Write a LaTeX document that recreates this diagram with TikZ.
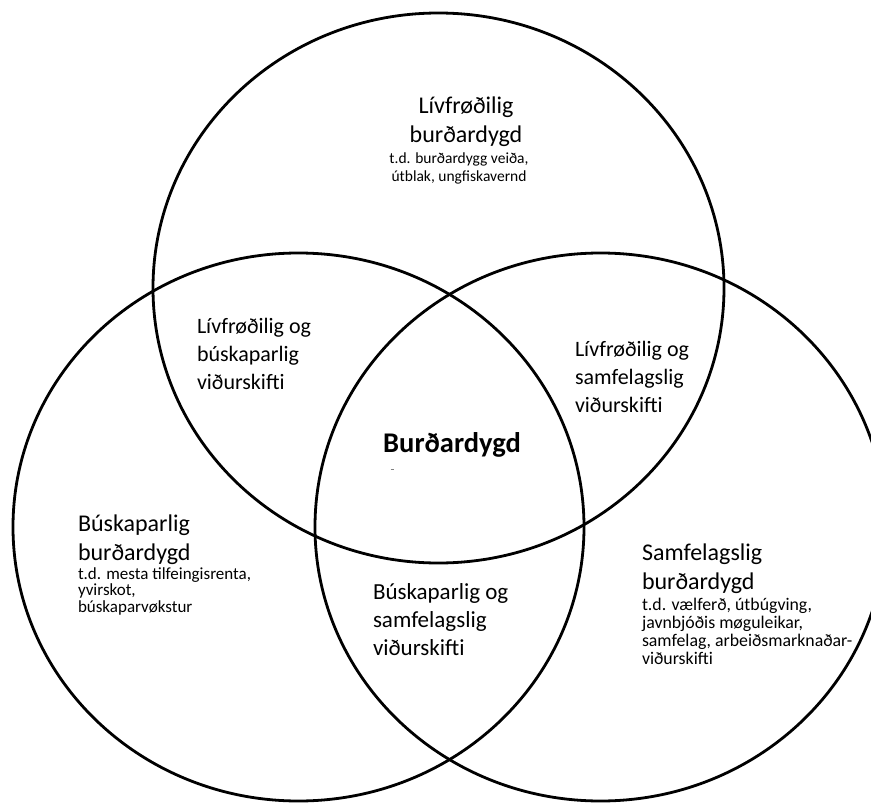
\documentclass[tikz,border=0pt]{standalone}
\usepackage{fontspec}
\setmainfont{Carlito}
\tikzset{
  ring/.style={line width=2.8pt, draw=black},
  blockL/.style={inner sep=0pt, outer sep=0pt, align=left, anchor=base west},
  blockC/.style={inner sep=0pt, outer sep=0pt, align=center, anchor=base},
  titlefont/.style={font=\fontsize{24}{28.5}\selectfont},
  pairfont/.style={font=\fontsize{22}{28}\selectfont},
  pairbigfont/.style={font=\fontsize{23}{28}\selectfont},
  smallfont/.style={font=\fontsize{15.5}{17.5}\selectfont},
  sidefont/.style={font=\fontsize{17}{16.5}\selectfont},
  rightfont/.style={font=\fontsize{17.8}{18}\selectfont},
  corefont/.style={font=\bfseries\fontsize{28.5}{32}\selectfont},
}
\begin{document}
\begin{tikzpicture}[x=1pt,y=-1pt]
\useasboundingbox (0,0) rectangle (871,803);
\fill[white] (0,0) rectangle (871,803);
% circles
\draw[ring] (438.5,288) ellipse [x radius=285.5pt, y radius=275pt];
\draw[ring] (298.5,527) ellipse [x radius=285.5pt, y radius=274pt];
\draw[ring] (600.5,527) ellipse [x radius=285.5pt, y radius=274pt];
% top circle (anchors sit on the last line's baseline)
\node[blockC, titlefont] (bioT) at (466,142) {Lívfrøðilig\\burðardygd};
\node[blockC, smallfont] (bioS) at (459,181) {t.d. burðardygg veiða,\\útblak, ungfiskavernd};
% left circle
\node[blockL, titlefont] (ecoT) at (78,560) {Búskaparlig\\burðardygd};
\node[blockL, sidefont] (ecoS) at (78,612) {t.d. mesta tilfeingisrenta,\\yvirskot,\\búskaparvøkstur};
% right circle
\node[blockL, titlefont] (socT) at (642,589) {Samfelagslig\\burðardygd};
\node[blockL, rightfont] (socS) at (642,664) {t.d. vælferð, útbúgving,\\javnbjóðis møguleikar,\\samfelag, arbeiðsmarknaðar-\\viðurskifti};
% overlaps
\node[blockL, pairfont] (bioEco) at (197,389) {Lívfrøðilig og\\búskaparlig\\viðurskifti};
\node[blockL, pairfont] (bioSoc) at (575,412) {Lívfrøðilig og\\samfelagslig\\viðurskifti};
\node[blockL, pairbigfont] (ecoSoc) at (373,655) {Búskaparlig og\\samfelagslig\\viðurskifti};
% centre
\node[blockC, corefont] (core) at (452,452) {Burðardygd};
\coordinate (tickA) at (390.5,469);
\coordinate (tickB) at (393.5,469);
\draw[line width=0.8pt, gray] (tickA) -- (tickB);
\end{tikzpicture}
\end{document}
